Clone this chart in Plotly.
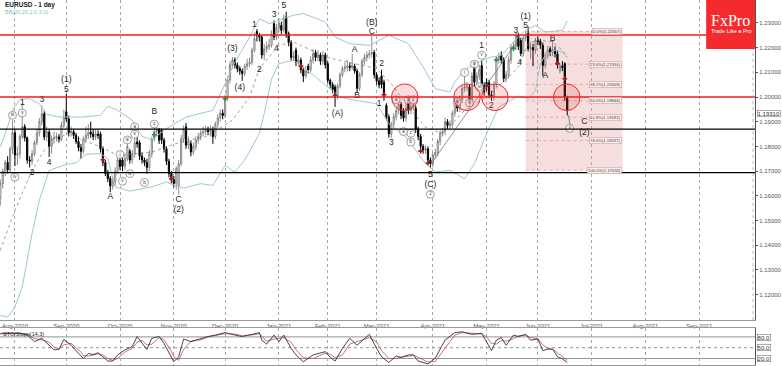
import plotly.graph_objects as go

FIRST_BAR = -6
opens = [
1.1590,1.1650,1.1700,1.1735,1.1705,1.1790,
1.1855,1.1765,1.1770,1.1840,1.1880,1.1835,1.1745,1.1740,1.1770,1.1815,
1.1855,1.1900,1.1932,1.1838,1.1858,1.1800,1.1830,1.1835,1.1838,1.1828,
1.1885,1.1940,1.1912,1.1855,1.1860,1.1845,1.1820,1.1795,1.1780,1.1830,
1.1845,1.1858,1.1850,1.1840,1.1850,1.1850,1.1790,1.1735,1.1690,1.1670,
1.1640,1.1655,1.1700,1.1745,1.1745,1.1720,1.1750,1.1780,1.1745,1.1770,
1.1818,1.1815,1.1760,1.1745,1.1735,1.1715,1.1770,1.1830,1.1860,1.1868,
1.1865,1.1825,1.1790,1.1740,1.1690,1.1665,1.1650,1.1640,1.1730,1.1830,
1.1880,1.1805,1.1811,1.1777,1.1800,1.1825,1.1840,1.1855,1.1860,1.1865,
1.1860,1.1865,1.1840,1.1890,1.1915,1.1935,1.1925,1.1995,1.2070,1.2130,
1.2150,1.2130,1.2115,1.2105,1.2095,1.2125,1.2135,1.2140,1.2190,1.2265,
1.2250,1.2243,1.2170,1.2195,1.2205,1.2210,1.2297,1.2243,1.2280,1.2290,
1.2270,1.2324,1.2257,1.2220,1.2160,1.2190,1.2140,1.2150,1.2110,1.2085,
1.2125,1.2110,1.2150,1.2180,1.2160,1.2170,1.2145,1.2170,1.2135,1.2067,
1.2050,1.2040,1.2005,1.2045,1.2090,1.2115,1.2120,1.2125,1.2120,1.2125,
1.2105,1.2035,1.2090,1.2145,1.2160,1.2170,1.2175,1.2180,1.2090,1.2065,
1.2085,1.2060,1.1966,1.1919,1.1850,1.1890,1.1920,1.1945,1.1970,1.1945,
1.1915,1.1987,1.1946,1.1960,1.1955,1.1870,1.1840,1.1800,1.1785,1.1790,
1.1745,1.1730,1.1765,1.1775,1.1820,1.1855,1.1860,1.1900,1.1885,1.1890,
1.1935,1.1985,1.1955,1.1990,1.2035,1.2040,1.2040,1.1975,1.2125,1.2060,
1.2085,1.2128,1.2047,1.2060,1.2060,1.2008,1.2000,1.2050,1.2150,1.2170,
1.2150,1.2075,1.2090,1.2150,1.2200,1.2205,1.2250,1.2229,1.2176,1.2240,
1.2257,1.2196,1.2200,1.2190,1.2230,1.2225,1.2209,1.2128,1.2170,1.2195,
1.2180,1.2190,1.2175,1.2105,1.2125,1.2135,1.1995]
closes = [
1.1650,1.1700,1.1735,1.1705,1.1790,1.1855,
1.1765,1.1770,1.1840,1.1880,1.1835,1.1745,1.1740,1.1770,1.1815,1.1855,
1.1900,1.1932,1.1838,1.1860,1.1800,1.1830,1.1835,1.1840,1.1828,1.1885,
1.1920,1.1912,1.1855,1.1860,1.1845,1.1820,1.1795,1.1780,1.1830,1.1845,
1.1855,1.1850,1.1840,1.1850,1.1845,1.1790,1.1735,1.1690,1.1670,1.1640,
1.1655,1.1700,1.1745,1.1718,1.1720,1.1750,1.1800,1.1745,1.1770,1.1815,
1.1810,1.1760,1.1745,1.1735,1.1715,1.1770,1.1830,1.1860,1.1868,1.1825,
1.1825,1.1790,1.1740,1.1690,1.1665,1.1650,1.1710,1.1730,1.1830,1.1870,
1.1805,1.1820,1.1777,1.1800,1.1825,1.1840,1.1855,1.1860,1.1865,1.1860,
1.1868,1.1840,1.1890,1.1915,1.1935,1.1925,1.1995,1.2070,1.2130,1.2150,
1.2130,1.2115,1.2105,1.2095,1.2125,1.2135,1.2140,1.2190,1.2235,1.2250,
1.2243,1.2170,1.2195,1.2205,1.2210,1.2255,1.2243,1.2280,1.2300,1.2270,
1.2320,1.2257,1.2220,1.2160,1.2165,1.2140,1.2150,1.2110,1.2085,1.2105,
1.2110,1.2150,1.2175,1.2160,1.2170,1.2145,1.2170,1.2130,1.2067,1.2050,
1.2030,1.2005,1.2045,1.2090,1.2115,1.2120,1.2125,1.2120,1.2128,1.2105,
1.2035,1.2090,1.2145,1.2160,1.2170,1.2175,1.2180,1.2090,1.2065,1.2050,
1.2050,1.2000,1.1919,1.1850,1.1890,1.1920,1.1945,1.1970,1.1925,1.1915,
1.1955,1.1946,1.1960,1.1970,1.1870,1.1840,1.1800,1.1785,1.1790,1.1745,
1.1730,1.1765,1.1775,1.1820,1.1855,1.1860,1.1900,1.1885,1.1890,1.1935,
1.1975,1.1955,1.1990,1.2035,1.2040,1.2045,1.1975,1.2085,1.2060,1.2085,
1.2110,1.2047,1.2020,1.2040,1.2008,1.2000,1.2050,1.2150,1.2165,1.2150,
1.2075,1.2090,1.2150,1.2200,1.2205,1.2250,1.2205,1.2176,1.2240,1.2250,
1.2196,1.2200,1.2190,1.2230,1.2225,1.2210,1.2128,1.2170,1.2190,1.2180,
1.2190,1.2175,1.2130,1.2125,1.2120,1.2000,1.1945]
highs = [
1.1665,1.1710,1.1745,1.1760,1.1800,1.1905,
1.1870,1.1800,1.1850,1.1975,1.1890,1.1840,1.1760,1.1785,1.1825,1.1870,
1.1915,1.1966,1.1945,1.1880,1.1870,1.1845,1.1860,1.1855,1.1850,1.1900,
1.1950,1.2014,1.1925,1.1880,1.1870,1.1855,1.1840,1.1810,1.1840,1.1880,
1.1890,1.1900,1.1870,1.1870,1.1865,1.1860,1.1800,1.1745,1.1705,1.1680,
1.1680,1.1715,1.1755,1.1760,1.1755,1.1770,1.1830,1.1790,1.1785,1.1870,
1.1840,1.1825,1.1775,1.1755,1.1750,1.1785,1.1840,1.1890,1.1880,1.1875,
1.1872,1.1835,1.1800,1.1750,1.1700,1.1680,1.1720,1.1745,1.1845,1.1885,
1.1895,1.1840,1.1825,1.1815,1.1840,1.1855,1.1865,1.1880,1.1885,1.1880,
1.1885,1.1880,1.1900,1.1930,1.1950,1.1950,1.2010,1.2085,1.2145,1.2162,
1.2160,1.2140,1.2125,1.2115,1.2135,1.2155,1.2160,1.2200,1.2260,1.2275,
1.2260,1.2250,1.2215,1.2225,1.2235,1.2270,1.2310,1.2295,1.2320,1.2305,
1.2335,1.2345,1.2265,1.2230,1.2185,1.2200,1.2170,1.2160,1.2120,1.2125,
1.2135,1.2165,1.2195,1.2190,1.2190,1.2180,1.2185,1.2180,1.2145,1.2075,
1.2060,1.2050,1.2055,1.2100,1.2125,1.2140,1.2150,1.2140,1.2175,1.2135,
1.2115,1.2100,1.2155,1.2175,1.2185,1.2190,1.2250,1.2190,1.2100,1.2080,
1.2110,1.2070,1.1975,1.1930,1.1900,1.1935,1.1960,1.1985,1.1980,1.1955,
1.1970,1.2000,1.1975,1.1985,1.1965,1.1880,1.1850,1.1810,1.1805,1.1800,
1.1755,1.1775,1.1790,1.1830,1.1865,1.1875,1.1915,1.1910,1.1905,1.1945,
1.1990,1.1995,1.2005,1.2045,1.2090,1.2060,1.2050,1.2100,1.2140,1.2100,
1.2130,1.2150,1.2060,1.2075,1.2070,1.2025,1.2065,1.2165,1.2180,1.2185,
1.2160,1.2105,1.2165,1.2215,1.2225,1.2265,1.2260,1.2240,1.2250,1.2265,
1.2285,1.2220,1.2215,1.2240,1.2245,1.2235,1.2220,1.2180,1.2205,1.2205,
1.2230,1.2205,1.2190,1.2135,1.2145,1.2140,1.2005]
lows = [
1.1560,1.1630,1.1680,1.1690,1.1695,1.1770,
1.1720,1.1725,1.1750,1.1830,1.1820,1.1730,1.1715,1.1725,1.1760,1.1805,
1.1840,1.1885,1.1825,1.1820,1.1757,1.1770,1.1815,1.1820,1.1815,1.1820,
1.1875,1.1900,1.1840,1.1840,1.1830,1.1810,1.1780,1.1750,1.1770,1.1815,
1.1830,1.1835,1.1825,1.1825,1.1830,1.1775,1.1720,1.1680,1.1655,1.1615,
1.1625,1.1640,1.1690,1.1705,1.1700,1.1705,1.1740,1.1730,1.1730,1.1755,
1.1795,1.1745,1.1730,1.1720,1.1690,1.1700,1.1755,1.1820,1.1840,1.1810,
1.1810,1.1775,1.1725,1.1675,1.1650,1.1635,1.1625,1.1605,1.1720,1.1815,
1.1790,1.1790,1.1760,1.1765,1.1785,1.1810,1.1825,1.1840,1.1845,1.1845,
1.1840,1.1810,1.1830,1.1875,1.1900,1.1910,1.1915,1.1985,1.2055,1.2115,
1.2115,1.2100,1.2090,1.2065,1.2085,1.2110,1.2120,1.2130,1.2180,1.2225,
1.2225,1.2155,1.2150,1.2180,1.2190,1.2200,1.2230,1.2230,1.2265,1.2255,
1.2260,1.2240,1.2205,1.2145,1.2145,1.2125,1.2130,1.2095,1.2060,1.2075,
1.2095,1.2100,1.2135,1.2145,1.2145,1.2130,1.2130,1.2115,1.2055,1.2035,
1.2015,1.1960,1.1990,1.2035,1.2080,1.2100,1.2105,1.2105,1.2110,1.2095,
1.2020,1.2025,1.2080,1.2130,1.2145,1.2155,1.2160,1.2075,1.2050,1.2035,
1.2035,1.1985,1.1905,1.1835,1.1835,1.1875,1.1905,1.1930,1.1910,1.1900,
1.1900,1.1930,1.1930,1.1945,1.1855,1.1825,1.1785,1.1770,1.1770,1.1730,
1.1712,1.1715,1.1750,1.1760,1.1805,1.1840,1.1845,1.1870,1.1870,1.1875,
1.1920,1.1940,1.1940,1.1975,1.2020,1.2025,1.1960,1.1960,1.2045,1.2045,
1.2070,1.2035,1.2005,1.2025,1.1995,1.1985,1.1985,1.2040,1.2135,1.2135,
1.2060,1.2060,1.2075,1.2135,1.2185,1.2190,1.2190,1.2165,1.2165,1.2225,
1.2185,1.2155,1.2125,1.2175,1.2210,1.2195,1.2085,1.2115,1.2155,1.2165,
1.2165,1.2160,1.2115,1.2095,1.2105,1.1985,1.1925]
bars = list(range(FIRST_BAR, FIRST_BAR + len(opens)))

month_bars = [0, 21, 43, 65, 86, 108, 128, 148, 171, 193, 214, 236, 258, 280]
month_labels = ["Aug-2020", "Sep-2020", "Oct-2020", "Nov-2020", "Dec-2020", "Jan-2021", "Feb-2021",
                "Mar-2021", "Apr-2021", "May-2021", "Jun-2021", "Jul-2021", "Aug-2021", "Sep-2021"]
price_ticks = [1.12, 1.13, 1.14, 1.15, 1.16, 1.17, 1.18, 1.19, 1.20, 1.21, 1.22, 1.23]

upper_x = [-6,-3,-1,2,6,10,13,18,28,35,38,42,48,52,56,62,70,81,86,89,96,100,104,110,114,118,127,131,137,145,153,161,167,172,178,180,184,188,195,199,206,209,213,217,224,226]
upper_y = [1.1798,1.1879,1.1946,1.1991,1.1993,1.1973,1.1930,1.1919,1.1919,1.1926,1.1962,1.1946,1.1906,1.1841,1.1827,1.1872,1.1919,1.1946,1.2054,1.2122,1.2243,1.2317,1.2297,1.2317,1.2331,1.2338,1.2304,1.2243,1.2216,1.2209,1.2250,1.2216,1.2122,1.2034,1.2020,1.2061,1.2108,1.2135,1.2162,1.2169,1.2243,1.2270,1.2290,1.2263,1.2270,1.2308]
lower_x = [-6,-3,0,3,7,10,14,21,25,29,35,38,41,47,56,62,65,69,76,81,86,90,94,100,102,105,108,114,123,128,133,139,148,153,160,168,172,178,184,188,193,198,206,210,213,215,217,221,224,226]
lower_y = [1.1116,1.1109,1.1150,1.1231,1.1447,1.1582,1.1703,1.1727,1.1733,1.1768,1.1771,1.1750,1.1636,1.1619,1.1636,1.1656,1.1642,1.1631,1.1649,1.1642,1.1723,1.1696,1.1744,1.1852,1.1933,1.2074,1.2135,1.2149,1.2081,1.2040,1.2000,1.1987,1.1973,1.1892,1.1838,1.1730,1.1696,1.1703,1.1669,1.1730,1.1852,1.1960,1.2004,1.1993,1.2027,1.2135,1.2169,1.2189,1.2182,1.2159]
mid_x = [-6,0,7,12,21,35,42,56,62,70,78,89,96,100,104,108,114,127,139,148,154,161,168,175,184,193,202,206,210,214,220,224,226]
mid_y = [1.1379,1.1541,1.1703,1.1784,1.1852,1.1798,1.1764,1.1777,1.1798,1.1825,1.1838,1.1906,1.2000,1.2115,1.2162,1.2209,1.2223,1.2162,1.2135,1.2115,1.2054,1.1959,1.1878,1.1852,1.1946,1.2000,1.2081,1.2122,1.2216,1.2230,1.2223,1.2189,1.2162]

stoch_x = [-6,-2,2,5,8,11,14,16,18,20,23,27,28,30,32,34,36,38,40,42,45,48,50,52,54,56,59,61,64,65,67,69,72,76,79,82,86,90,93,99,
           100,101,103,106,108,110,113,115,118,122,127,129,131,134,137,140,145,148,150,153,156,158,161,163,165,169,172,176,180,183,187,191,193,195,197,199,201,204,206,209,211,214,216,218,220,222,224,226]
stoch_main = [90,90,90,85,67,76,57,44,45,73,57,25,20,34,31,36,25,13,13,30,44,53,81,62,45,76,81,62,25,11,25,74,67,76,81,85,92,85,81,90,
              92,71,60,85,67,85,48,30,11,30,39,23,13,48,76,57,87,48,25,9,27,23,30,30,13,5,21,71,92,94,87,90,67,42,71,78,57,85,81,87,71,74,42,46,46,25,19,9]
stoch_signal = [88,90,90,88,75,72,65,52,47,58,62,38,28,27,29,33,30,20,15,20,38,48,65,70,58,60,78,72,40,25,15,45,68,72,80,83,89,88,83,87,
                90,82,68,74,75,78,65,45,22,20,35,32,22,30,60,66,78,66,42,20,20,24,26,30,24,10,12,50,85,92,90,88,80,62,60,70,68,75,83,85,78,75,58,48,46,35,24,15]

resistance_red = [1.2251, 1.2000]
support_black = [1.1870, 1.1694]
fib_names = ["0.0%", "23.6%", "38.2%", "50.0%", "61.8%", "78.6%", "100.0%"]
fib_prices = [1.22657, 1.21330, 1.20509, 1.19846, 1.19182, 1.18237, 1.17034]
fib_start, fib_end = 209, 248.6

wave_text = ["(1)","5","1","3","4","2","B","A","C","(2)","(3)","(4)","1","2",
             "3","5","4","(B)","C","(A)","A","B","2","1","3","5","(C)","1","3","2",
             "(1)","5","4","A","B","C","(2)"]
wave_x = [21,21,3,11,14,7,57,39,67,67,89,92,98,100,
          106,110,107,146,146,132,139,140,150,149,154,170,170,191,205,195,
          209,209,206.5,217,220,233,233]
wave_y = [1.2068,1.2030,1.1976,1.1987,1.1734,1.1692,1.1939,1.1595,1.1582,1.1544,1.2196,1.2038,1.2294,1.2111,
          1.2331,1.2371,1.2196,1.2301,1.2263,1.1932,1.2189,1.2004,1.2135,1.1973,1.1815,1.1685,1.1646,1.2207,1.2267,1.1966,
          1.2324,1.2286,1.2139,1.2084,1.2236,1.1899,1.1856]
circ_text = ["iii","v","iv","a","c","iii","v","i","iv","ii","b","2","i","v","iii","iv","ii","a","b","c","a","c","b","iv","ii"]
circ_x = [-1,3,0,49,57,46,49,43,47,44,53,170,184,191,188,190,186,156,161,163,159,162,162,181,227]
circ_y = [1.1926,1.1935,1.1676,1.1879,1.1890,1.1826,1.1849,1.1767,1.1690,1.1659,1.1654,1.1606,1.2099,1.2169,1.2133,1.2041,1.1976,1.1989,1.1989,1.1989,1.1860,1.1853,1.1817,1.1980,1.1873]
red_mark_x = [36,64,117,131,151,166,169,222,225]
red_mark_y = [1.1746,1.1669,1.2125,1.2007,1.2009,1.1781,1.1733,1.2135,1.2074]
green_mark_x = [57,86,197,204]
green_mark_y = [1.1847,1.1993,1.2151,1.2197]
trend_x = [170, 205]
trend_y = [1.1725, 1.2218]
path_x = [226.5, 227, 228]
path_y = [1.1926, 1.1895, 1.1875]
circle_bars = [159.5, 185, 196.4, 225.8]
circle_price = 1.1999

W, H = 782, 366
AX_R = 757
PX_PER_BAR = 2.45
BAR0_PX = 15
x_range = [(0 - BAR0_PX) / PX_PER_BAR, (AX_R - BAR0_PX) / PX_PER_BAR]
PX_PER_PRICE = 2470
y_range = [1.20 - 223 / PX_PER_PRICE, 1.20 + 97 / PX_PER_PRICE]
FONT = "Liberation Sans, Arial, sans-serif"

fig = go.Figure()
fig.add_trace(go.Candlestick(
    x=bars, open=opens, high=highs, low=lows, close=closes,
    increasing=dict(line=dict(color="#6e6e6e", width=0.8), fillcolor="#ffffff"),
    decreasing=dict(line=dict(color="#000000", width=1), fillcolor="#000000"),
    whiskerwidth=0, showlegend=False, hoverinfo="skip"))
fig.add_trace(go.Scatter(x=upper_x, y=upper_y, mode="lines", line=dict(color="#9fc9cb", width=1), hoverinfo="skip"))
fig.add_trace(go.Scatter(x=lower_x, y=lower_y, mode="lines", line=dict(color="#9fc9cb", width=1), hoverinfo="skip"))
fig.add_trace(go.Scatter(x=mid_x, y=mid_y, mode="lines", line=dict(color="#777777", width=0.7, dash="dot"), hoverinfo="skip"))
fig.add_trace(go.Scatter(x=trend_x, y=trend_y, mode="lines", line=dict(color="#777777", width=0.8), hoverinfo="skip"))
fig.add_trace(go.Scatter(x=path_x, y=path_y, mode="lines", line=dict(color="#666666", width=0.8), hoverinfo="skip"))
fig.add_trace(go.Scatter(x=red_mark_x, y=red_mark_y, mode="markers",
                         marker=dict(symbol="cross", size=4, color="#b01818"), hoverinfo="skip"))
fig.add_trace(go.Scatter(x=green_mark_x, y=green_mark_y, mode="markers",
                         marker=dict(symbol="cross", size=4, color="#2f8f3a"), hoverinfo="skip"))
fig.add_trace(go.Scatter(x=circ_x, y=circ_y, mode="markers+text", text=circ_text, textposition="middle center",
                         textfont=dict(size=4.5, color="#333333", family=FONT),
                         marker=dict(symbol="circle", size=8, color="rgba(255,255,255,0.75)",
                                     line=dict(color="#777777", width=0.7)), hoverinfo="skip"))
fig.add_trace(go.Scatter(x=wave_x, y=wave_y, mode="text", text=wave_text, textposition="middle center",
                         textfont=dict(size=8.5, color="#222222", family=FONT), hoverinfo="skip"))
fig.add_trace(go.Scatter(x=stoch_x, y=stoch_signal, mode="lines", xaxis="x2", yaxis="y2",
                         line=dict(color="#c0504d", width=0.8), hoverinfo="skip"))
fig.add_trace(go.Scatter(x=stoch_x, y=stoch_main, mode="lines", xaxis="x2", yaxis="y2",
                         line=dict(color="#333333", width=0.9), hoverinfo="skip"))

shapes = [dict(type="rect", xref="x", yref="y", x0=fib_start, x1=fib_end, y0=fib_prices[-1], y1=fib_prices[0],
               fillcolor="#f6dede", line=dict(width=0), layer="below")]
for p in fib_prices:
    shapes.append(dict(type="line", xref="x", yref="y", x0=fib_start, x1=fib_end, y0=p, y1=p,
                       line=dict(color="#e59a9a", width=0.8, dash="dot"), layer="below"))
for p in resistance_red:
    shapes.append(dict(type="line", xref="x", yref="y", x0=x_range[0], x1=x_range[1], y0=p, y1=p,
                       line=dict(color="#f01c1c", width=1.4)))
for p in support_black:
    shapes.append(dict(type="line", xref="x", yref="y", x0=x_range[0], x1=x_range[1], y0=p, y1=p,
                       line=dict(color="#000000", width=1.4)))
R_BARS = 13.3 / PX_PER_BAR
R_PRICE = 13.3 / PX_PER_PRICE
for c in circle_bars:
    shapes.append(dict(type="circle", xref="x", yref="y", x0=c - R_BARS, x1=c + R_BARS,
                       y0=circle_price - R_PRICE, y1=circle_price + R_PRICE,
                       fillcolor="rgba(240,60,60,0.18)", line=dict(color="#ee2a2a", width=1)))
for v, dash in [(80, "solid"), (50, "dot"), (20, "solid")]:
    shapes.append(dict(type="line", xref="x2", yref="y2", x0=x_range[0], x1=x_range[1], y0=v, y1=v,
                       line=dict(color="#777777", width=0.8, dash=dash), layer="below"))
shapes.append(dict(type="line", xref="paper", yref="paper", x0=755 / W, x1=755 / W, y0=1 - 320 / H, y1=1,
                   line=dict(color="#999999", width=0.7, dash="dot")))
shapes.append(dict(type="rect", xref="paper", yref="paper", x0=708 / W, x1=AX_R / W, y0=1 - 49 / H, y1=1,
                   fillcolor="#f42a2f", line=dict(width=0)))

def px(x, y, text, size, color="#333333", family=FONT, anchor="left", **kw):
    return dict(xref="paper", yref="paper", x=x / W, y=1 - y / H, text=text, showarrow=False,
                font=dict(size=size, color=color, family=family), xanchor=anchor, yanchor="middle",
                borderpad=0, **kw)

annotations = [
    px(4, 5, "<b>EURUSD - 1 day</b>", 6.5, "#222222"),
    px(4, 12, "BB(20,20,2.0,3.0)", 5.5, "#8fbcbe"),
    px(2, 334, "STO/Slope(14,3)", 5.5, "#222222"),
    px(732.5, 21, "FxPro", 16, "#ffffff", "Liberation Serif, serif", "center"),
    px(732.5, 31, "Trade Like a Pro", 5.5, "#ffffff", FONT, "center"),
    px(759, 113.7, "1.19310", 6, "#333333", bgcolor="#ffffff", bordercolor="#777777", borderwidth=0.6),
]
for v, py in [("80.0", 337.3), ("50.0", 347.5), ("20.0", 358.7)]:
    annotations.append(px(759, py, v, 6, "#333333", bgcolor="#ffffff", bordercolor="#777777", borderwidth=0.6))
for name, p in zip(fib_names, fib_prices):
    annotations.append(dict(xref="x", yref="y", x=fib_end, y=p, text=f"{name}({p:.5f})", showarrow=False,
                            xanchor="right", yanchor="middle", font=dict(size=4.2, color="#444444", family=FONT),
                            bgcolor="#f8eeee", bordercolor="#e59a9a", borderwidth=0.6, borderpad=0.5))

grid = dict(showgrid=True, gridcolor="#a8a8a8", griddash="dot", gridwidth=0.7, zeroline=False)
fig.update_layout(
    width=W, height=H, margin=dict(l=0, r=0, t=0, b=0), paper_bgcolor="#ffffff", plot_bgcolor="#ffffff",
    showlegend=False, shapes=shapes, annotations=annotations, hovermode=False,
    xaxis=dict(domain=[0, AX_R / W], range=x_range, tickmode="array", tickvals=month_bars, ticktext=month_labels,
               anchor="y", rangeslider=dict(visible=False), showline=True, linecolor="#999999", linewidth=1,
               mirror=False, ticks="", ticklen=0, tickfont=dict(size=6, color="#555555", family=FONT),
               tickangle=0, **grid),
    yaxis=dict(domain=[1 - 320 / H, 1], range=y_range, side="right", anchor="x", tickmode="array",
               tickvals=price_ticks, ticktext=[f"{t:.5f}" for t in price_ticks], showgrid=False, zeroline=False,
               showline=True, linecolor="#555555", linewidth=1, ticks="outside", ticklen=2, tickcolor="#555555",
               tickfont=dict(size=6, color="#555555", family=FONT)),
    xaxis2=dict(domain=[0, AX_R / W], range=x_range, tickmode="array", tickvals=month_bars, showticklabels=False,
                anchor="y2", side="top", showline=True, linecolor="#999999", linewidth=1, mirror=True, ticks="", **grid),
    yaxis2=dict(domain=[1 - 365 / H, 1 - 328 / H], range=[2, 104.7], side="right", anchor="x2", showticklabels=False,
                showgrid=False, zeroline=False, showline=True, linecolor="#555555", linewidth=1, ticks=""),
)
fig.write_html("out.html", config=dict(displayModeBar=False),
               post_script="document.body.style.margin='0';document.body.style.overflow='hidden';")
